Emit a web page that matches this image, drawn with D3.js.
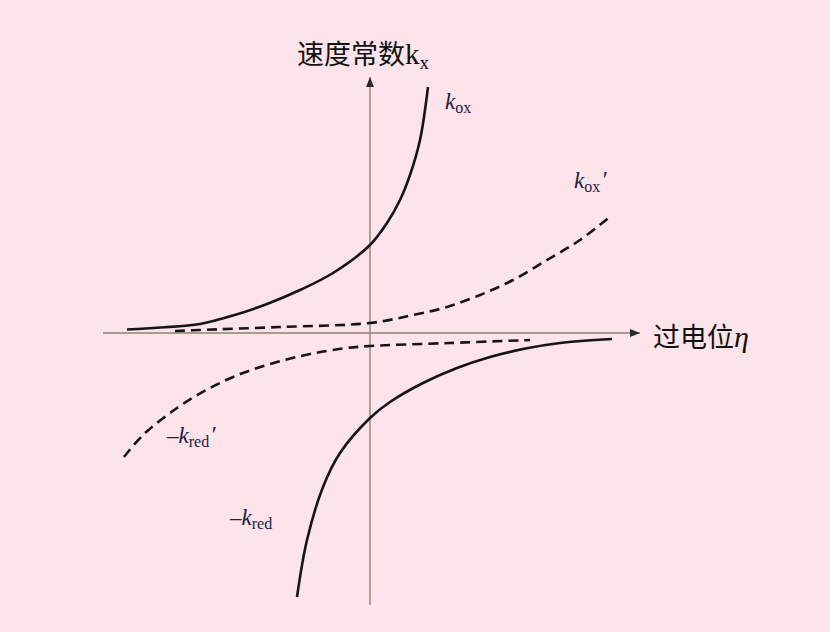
<!DOCTYPE html>
<html lang="zh">
  <head>
    <meta charset="utf-8" />
    <title>速度常数与过电位</title>
    <script type="text/javascript" src="https://d3js.org/d3.v7.min.js"></script>
    <style>
      html, body { margin: 0; padding: 0; background: #fce4ea; }
      svg { display: block; }
    </style>
  </head>
  <body>
    <div id="graph"></div>

    <script type="text/javascript">
      /********************************
       * data (η, k)
       ********************************/

      const koxEta = [-4.86, -4.2, -3.4, -2.74, -2.06, -1.4, -0.74, 0, 0.34, 0.6, 0.8, 1.0, 1.16];
      const koxK = [0.07, 0.11, 0.18, 0.35, 0.58, 0.86, 1.2, 1.76, 2.2, 2.66, 3.16, 3.86, 4.92];

      const koxPEta = [-3.9, -3.4, -1.8, 0, 0.86, 1.54, 2.2, 2.86, 3.54, 4.2, 4.82];
      const koxPK = [0.04, 0.06, 0.12, 0.2, 0.36, 0.52, 0.76, 1.06, 1.46, 1.86, 2.34];

      const kredPEta = [-4.92, -4.54, -3.86, -3.2, -2.54, -1.86, -1.2, -0.54, 0, 1.6, 3.2];
      const kredPK = [-2.48, -2.04, -1.5, -1.1, -0.8, -0.58, -0.42, -0.31, -0.26, -0.2, -0.14];

      const kredEta = [-1.46, -1.26, -0.94, -0.6, 0, 0.4, 1.06, 1.74, 2.4, 3.06, 3.8, 4.84];
      const kredK = [-5.28, -4.14, -3.08, -2.4, -1.7, -1.38, -1.0, -0.7, -0.48, -0.32, -0.2, -0.12];

      const etaDomain = [-5.34, 5.4];
      const kDomain = [-5.44, 5.12];

      const yTitle = "速度常数";
      const xTitle = "过电位";

      /***************************
       * create svg
       **************************/

      const width = 830;
      const height = 632;

      const svg = d3
        .select("div#graph")
        .append("svg")
        .attr("width", width)
        .attr("height", height);

      svg
        .append("rect")
        .attr("width", width)
        .attr("height", height)
        .attr("fill", "#fce4ea");

      /****************************
       * scale
       *************************/

      const xScale = d3.scaleLinear().domain(etaDomain).range([103, 640]);
      const yScale = d3.scaleLinear().domain(kDomain).range([605, 77]);

      /*********************************
       * axes (plain lines with arrow heads)
       *******************************/

      const axisColor = "#8c8272";

      svg
        .append("defs")
        .append("marker")
        .attr("id", "arrow")
        .attr("viewBox", "0 0 10 10")
        .attr("refX", 10)
        .attr("refY", 5)
        .attr("markerWidth", 10)
        .attr("markerHeight", 10)
        .attr("markerUnits", "userSpaceOnUse")
        .attr("orient", "auto")
        .append("path")
        .attr("d", "M0,1 L10,5 L0,9 Z")
        .attr("fill", "#2a2a2a");

      svg
        .append("line")
        .attr("x1", xScale(etaDomain[0]))
        .attr("x2", xScale(etaDomain[1]))
        .attr("y1", yScale(0))
        .attr("y2", yScale(0))
        .attr("stroke", axisColor)
        .attr("stroke-width", 1.4)
        .attr("marker-end", "url(#arrow)");

      svg
        .append("line")
        .attr("x1", xScale(0))
        .attr("x2", xScale(0))
        .attr("y1", yScale(kDomain[0]))
        .attr("y2", yScale(kDomain[1]))
        .attr("stroke", axisColor)
        .attr("stroke-width", 1.4)
        .attr("marker-end", "url(#arrow)");

      /********************************
       * curves
       * *******************************/

      const line = d3
        .line()
        .x((d) => xScale(d[0]))
        .y((d) => yScale(d[1]))
        .curve(d3.curveCatmullRom.alpha(0.5));

      const curves = [
        { eta: koxEta, k: koxK, dashed: false },
        { eta: koxPEta, k: koxPK, dashed: true },
        { eta: kredPEta, k: kredPK, dashed: true },
        { eta: kredEta, k: kredK, dashed: false },
      ];

      svg
        .selectAll("path.curve")
        .data(curves)
        .enter()
        .append("path")
        .attr("class", "curve")
        .attr("d", (c) => line(d3.zip(c.eta, c.k)))
        .attr("fill", "none")
        .attr("stroke", "#151515")
        .attr("stroke-width", 2.6)
        .attr("stroke-dasharray", (c) => (c.dashed ? "10,6" : null));

      /*******************************
       * labels
       *******************************/

      const cjk = "'Noto Sans CJK SC', sans-serif";
      const serif = "'Liberation Serif', 'Times New Roman', serif";
      const labelColor = "#1b2140";

      // y axis title
      const yt = svg
        .append("text")
        .attr("x", 297)
        .attr("y", 64)
        .attr("fill", "#111")
        .attr("font-size", 27);
      yt.append("tspan").attr("font-family", cjk).text(yTitle);
      yt.append("tspan").attr("font-family", serif).attr("font-size", 29).text("k");
      yt.append("tspan")
        .attr("font-family", serif)
        .attr("font-size", 19)
        .attr("dy", 5)
        .text("x");

      // x axis title
      const xt = svg
        .append("text")
        .attr("x", 653)
        .attr("y", 347)
        .attr("fill", "#111")
        .attr("font-size", 27);
      xt.append("tspan").attr("font-family", cjk).text(xTitle);
      xt.append("tspan")
        .attr("font-family", serif)
        .attr("font-style", "italic")
        .attr("font-size", 30)
        .text("η");

      // curve labels
      const curveLabels = [
        { x: 445, y: 109, minus: false, sub: "ox", prime: false },
        { x: 574, y: 188, minus: false, sub: "ox", prime: true },
        { x: 167, y: 443, minus: true, sub: "red", prime: true },
        { x: 230, y: 525, minus: true, sub: "red", prime: false },
      ];

      curveLabels.forEach((l) => {
        const t = svg
          .append("text")
          .attr("x", l.x)
          .attr("y", l.y)
          .attr("font-family", serif)
          .attr("font-size", 23)
          .attr("fill", labelColor);
        if (l.minus) t.append("tspan").text("\u2013");
        t.append("tspan").attr("font-style", "italic").text("k");
        t.append("tspan").attr("font-size", 16).attr("dy", 4).text(l.sub);
        if (l.prime) {
          t.append("tspan")
            .attr("font-size", 24)
            .attr("font-style", "italic")
            .attr("dy", -5)
            .attr("dx", 1)
            .text("\u2032");
        }
      });
    </script>
  </body>
</html>
